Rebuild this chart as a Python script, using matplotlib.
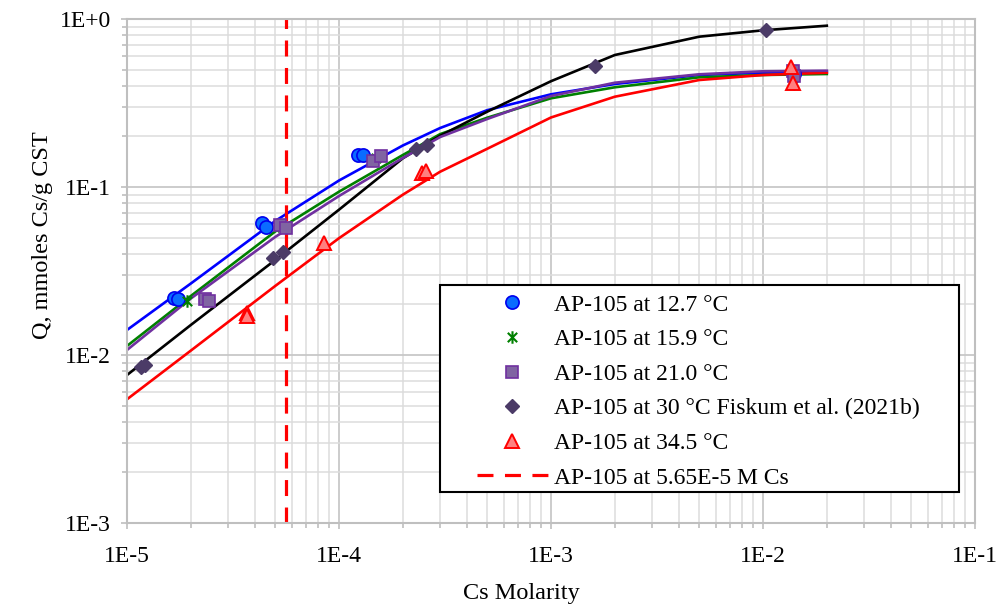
import numpy as np
import matplotlib
matplotlib.use("Agg")
import matplotlib.pyplot as plt
from matplotlib.path import Path
from matplotlib.patches import Rectangle
from matplotlib.ticker import LogLocator, FuncFormatter, NullFormatter
from matplotlib.lines import Line2D

plt.rcParams['font.family'] = ['Liberation Serif', 'DejaVu Serif']

# ---------------- data ----------------
cs_fit = [1e-5, 2e-5, 5e-5, 1e-4, 2e-4, 3e-4, 5e-4, 1e-3, 2e-3, 5e-3, 1e-2, 2e-2]
fit_127 = [0.01409, 0.02664, 0.06274, 0.1093, 0.1766, 0.2245, 0.2866, 0.3562, 0.4103, 0.4642, 0.4790, 0.4857]
fit_159 = [0.01132, 0.02245, 0.05433, 0.09376, 0.1550, 0.2065, 0.2585, 0.3373, 0.3922, 0.4497, 0.4642, 0.4706]
fit_210 = [0.01071, 0.02169, 0.05040, 0.08839, 0.1488, 0.1984, 0.2539, 0.3480, 0.4176, 0.4687, 0.4884, 0.4924]
fit_300 = [0.00760, 0.01509, 0.03676, 0.07326, 0.1482, 0.2019, 0.2807, 0.4263, 0.6105, 0.7846, 0.8564, 0.9123]
fit_345 = [0.005449, 0.01062, 0.02575, 0.04957, 0.08999, 0.1233, 0.1688, 0.2593, 0.3447, 0.4333, 0.4642, 0.4790]

x_127 = [1.66e-5, 1.74e-5, 4.32e-5, 4.53e-5, 1.234e-4, 1.30e-4, 1.40e-2]
q_127 = [0.0218, 0.0215, 0.0608, 0.0580, 0.155, 0.155, 0.470]
x_159 = [1.91e-5, 5.4e-5, 1.50e-4, 1.40e-2]
q_159 = [0.0210, 0.0580, 0.148, 0.410]
x_210 = [2.33e-5, 2.44e-5, 5.27e-5, 5.62e-5, 1.45e-4, 1.58e-4, 1.38e-2, 1.40e-2]
q_210 = [0.0215, 0.0210, 0.0594, 0.0568, 0.143, 0.153, 0.490, 0.455]
x_300 = [1.17e-5, 1.22e-5, 4.9e-5, 5.46e-5, 2.31e-4, 2.61e-4, 1.61e-3, 1.03e-2]
q_300 = [0.0085, 0.0087, 0.0376, 0.0412, 0.168, 0.178, 0.525, 0.860]
x_345 = [3.67e-5, 3.70e-5, 8.5e-5, 2.46e-4, 2.57e-4, 1.35e-2, 1.38e-2]
q_345 = [0.0178, 0.0170, 0.0466, 0.1217, 0.125, 0.516, 0.418]

cs_ref = 5.65e-5

labels = ["AP-105 at 12.7 \u00b0C", "AP-105 at 15.9 \u00b0C", "AP-105 at 21.0 \u00b0C",
          "AP-105 at 30 \u00b0C Fiskum et al. (2021b)", "AP-105 at 34.5 \u00b0C",
          "AP-105 at 5.65E-5 M Cs"]

# ---------------- figure ----------------
fig = plt.figure(figsize=(10, 6.08), dpi=100)
ax = fig.add_axes([0.127, 1 - 523 / 608, 0.848, 504 / 608])

ax.set_xscale('log')
ax.set_yscale('log')
ax.set_xlim(1e-5, 1e-1)
ax.set_ylim(1e-3, 1e0)

# star marker (Excel-like: x plus vertical bar)
a = 0.75
star = Path([(0, -1), (0, 1), (-a, -a), (a, a), (-a, a), (a, -a)],
            [Path.MOVETO, Path.LINETO, Path.MOVETO, Path.LINETO, Path.MOVETO, Path.LINETO])

lw = 1.9
ax.plot(cs_fit, fit_127, color='#0000FF', lw=lw, zorder=2)
ax.plot(cs_fit, fit_159, color='#008000', lw=lw, zorder=2)
ax.plot(cs_fit, fit_300, color='#000000', lw=lw, zorder=2)
ax.plot(cs_fit, fit_345, color='#FF0000', lw=lw, zorder=2)
ax.plot(cs_fit, fit_210, color='#7030A0', lw=lw, zorder=2)

ax.axvline(cs_ref, color='#FF0000', lw=2.3, dashes=(5, 3.6), zorder=2.5)

mk = dict(linestyle='none', zorder=3)
ax.plot(x_127, q_127, marker='o', ms=9.5, mfc='#0A6CFF', mec='#0000EE', mew=1.2, **mk)
ax.plot(x_159, q_159, marker=star, ms=9, mfc='none', mec='#008000', mew=1.5, **mk)
ax.plot(x_210, q_210, marker='s', ms=9, mfc='#8064A2', mec='#7030A0', mew=1.2, **mk)
ax.plot(x_300, q_300, marker='D', ms=7.5, mfc='#4B3B67', mec='#4B3B67', mew=1.0, **mk)
ax.plot(x_345, q_345, marker='^', ms=10, mfc='#FF8080', mec='#FF0000', mew=1.4, **mk)

# ---------------- axes styling ----------------
for axis in (ax.xaxis, ax.yaxis):
    axis.set_major_locator(LogLocator(base=10, numticks=10))
    axis.set_minor_locator(LogLocator(base=10, subs=np.arange(2, 10), numticks=20))
    axis.set_minor_formatter(NullFormatter())

fmt = FuncFormatter(lambda v, p: "1E{:+d}".format(int(round(np.log10(v)))) if np.log10(v) >= 0
                    else "1E{:d}".format(int(round(np.log10(v)))))
ax.xaxis.set_major_formatter(fmt)
ax.yaxis.set_major_formatter(fmt)

ax.grid(True, which='major', color='#C8C8C8', lw=1.3, zorder=0)
ax.grid(True, which='minor', color='#DCDCDC', lw=1.1, zorder=0)
ax.set_axisbelow(True)
for s in ax.spines.values():
    s.set_color('#BFBFBF')
    s.set_linewidth(1.5)
ax.tick_params(which='both', direction='out', color='#BFBFBF', width=1.2)
ax.tick_params(which='major', length=4.5, labelsize=17, labelcolor='black')
ax.tick_params(axis='x', which='major', pad=12)
ax.tick_params(axis='y', which='major', pad=7)
ax.tick_params(which='minor', length=3.5)

ax.set_xlabel("Cs Molarity", fontsize=17.5)
ax.set_ylabel("Q, mmoles Cs/g CST", fontsize=17.5)
ax.xaxis.set_label_coords((521 - 127) / 848, (523 - 583) / 504)
ax.yaxis.set_label_coords((53 - 127) / 848, (523 - 235) / 504)

# ---------------- legend ----------------
box = Rectangle(((440 - 127) / 848, (523 - 492) / 504), (959 - 440) / 848, (492 - 285) / 504,
                transform=ax.transAxes, facecolor='white', edgecolor='black', lw=1.5,
                clip_on=False, zorder=5)
ax.add_patch(box)

handles = [
    Line2D([], [], ls='none', marker='o', ms=9.5, mfc='#0A6CFF', mec='#0000EE', mew=1.2),
    Line2D([], [], ls='none', marker=star, ms=9, mfc='none', mec='#008000', mew=1.5),
    Line2D([], [], ls='none', marker='s', ms=9, mfc='#8064A2', mec='#7030A0', mew=1.2),
    Line2D([], [], ls='none', marker='D', ms=7.5, mfc='#4B3B67', mec='#4B3B67', mew=1.0),
    Line2D([], [], ls='none', marker='^', ms=10, mfc='#FF8080', mec='#FF0000', mew=1.4),
    Line2D([], [], color='#FF0000', lw=2.3, dashes=(5, 3.6)),
]
leg = ax.legend(handles, labels, loc='upper left',
                bbox_to_anchor=((477 - 127) / 848, (523 - 294) / 504),
                frameon=False, fontsize=17, borderpad=0, borderaxespad=0,
                handlelength=3.0, handletextpad=0.25, labelspacing=0.555)
leg.set_zorder(6)

fig.savefig("out.png", dpi=100)
